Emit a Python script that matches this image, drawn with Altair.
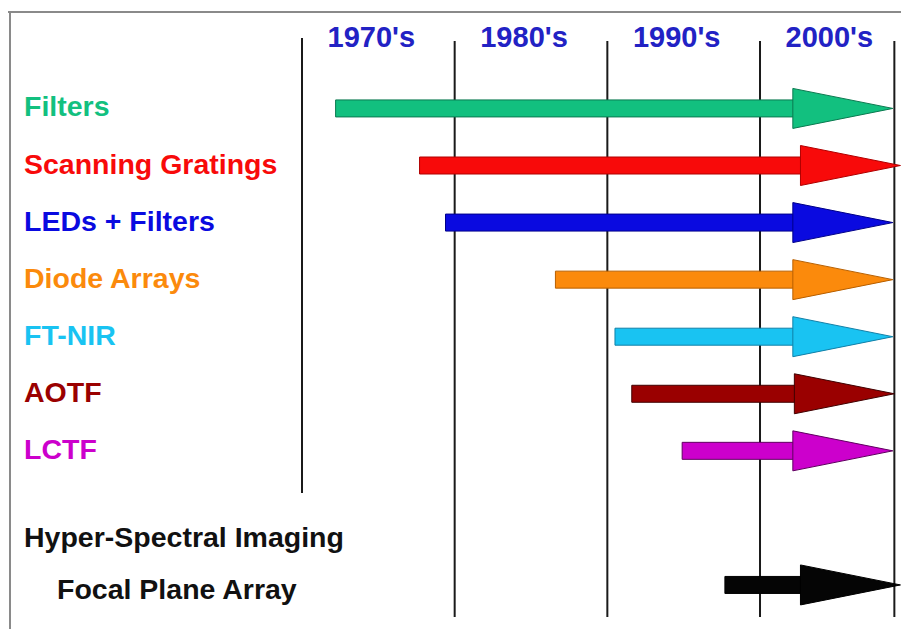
import altair as alt
import pandas as pd

# ---- data ----
tech = ["Filters", "Scanning Gratings", "LEDs + Filters", "Diode Arrays",
        "FT-NIR", "AOTF", "LCTF", "Focal Plane Array"]
start_year = [1972.2, 1977.7, 1979.4, 1986.6, 1990.5, 1991.6, 1994.9, 1997.7]
end_year = [2008.7, 2009.2, 2008.7, 2008.7, 2008.7, 2008.8, 2008.7, 2009.2]
row = [0, 1, 2, 3, 4, 5, 6, 8.35]

heading = ["Hyper-Spectral Imaging"]
heading_row = [7.55]

decades = ["1970's", "1980's", "1990's", "2000's"]
decade_start = [1970, 1980, 1990, 2000]
gridline_years = [1970, 1980, 1990, 2000, 2008.8]

tech_colors = ["#12c07f", "#f80a0a", "#0a0ae0", "#fb8a0c",
               "#19c3f2", "#9a0000", "#cc00cc", "#050505"]
tech_outlines = ["#0b7a50", "#b00000", "#00008a", "#b86000",
                 "#1080a8", "#400000", "#600060", "#000000"]
heading_color = ["#111111"]
decade_color = "#2222c4"

FONT = "Liberation Sans, Arial, sans-serif"
FSIZE = 28.5
DSIZE = 29
HEAD_YEARS = 6.5  # arrow head length in years

W, H = 893, 621

arrows = pd.DataFrame({"tech": tech, "start": start_year, "end": end_year, "row": row})
labels = pd.DataFrame({"label": tech[:-1] + heading, "row": row[:-1] + heading_row})
fpa_label = pd.DataFrame({"label": [tech[-1]], "row": [row[-1]]})
dec = pd.DataFrame({"decade": decades, "start": decade_start})
grid = pd.DataFrame({"year": gridline_years})

xscale = alt.Scale(domain=[1950.742, 2009.235], nice=False, zero=False)
yscale = alt.Scale(domain=[-1.6724, 9.0345], reverse=True, nice=False, zero=False)

color_scale = alt.Scale(domain=tech + heading, range=tech_colors + heading_color)
outline_scale = alt.Scale(domain=tech, range=tech_outlines)

X = lambda f: alt.X(f, type="quantitative", scale=xscale, axis=None)
Y = lambda f: alt.Y(f, type="quantitative", scale=yscale, axis=None)

# frame (top and left edges)
frame_top = alt.Chart(grid).mark_rule(color="#8a8a8a", strokeWidth=1.5).encode(
    x=alt.value(0), x2=alt.value(W), y=alt.value(4))
frame_left = alt.Chart(grid).mark_rule(color="#8a8a8a", strokeWidth=1.5).encode(
    x=alt.value(2), y=alt.value(4), y2=alt.value(H))

# vertical decade lines
first_line = alt.Chart(grid).transform_filter("datum.year == 1970").mark_rule(
    color="#1a1a1a", strokeWidth=2).encode(x=X("year"), y=alt.value(30), y2=alt.value(485))
other_lines = alt.Chart(grid).transform_filter("datum.year > 1970").mark_rule(
    color="#1a1a1a", strokeWidth=2).encode(x=X("year"), y=alt.value(33), y2=alt.value(609))

# decade labels
dec_text = alt.Chart(dec).transform_calculate(mid="datum.start + 5").mark_text(
    font=FONT, fontSize=DSIZE, fontWeight="bold", color=decade_color,
    baseline="middle", align="center", dx=-7).encode(
    x=X("mid"), y=alt.value(30), text="decade:N")

# arrow shafts
shaft = alt.Chart(arrows).transform_calculate(
    base=f"datum.end - {HEAD_YEARS}").mark_bar(size=17, strokeWidth=1).encode(
    x=X("start"), x2="base:Q", y=Y("row"),
    color=alt.Color("tech:N", scale=color_scale, legend=None),
    stroke=alt.Stroke("tech:N", scale=outline_scale, legend=None))

# arrow heads
head = alt.Chart(arrows).mark_point(
    shape="M0,0L-1,-0.2L-1,0.2Z", size=40000, filled=True, opacity=1,
    strokeWidth=1).encode(
    x=X("end"), y=Y("row"),
    color=alt.Color("tech:N", scale=color_scale, legend=None),
    stroke=alt.Stroke("tech:N", scale=outline_scale, legend=None))

# row labels
lab = alt.Chart(labels).mark_text(
    font=FONT, fontSize=FSIZE, fontWeight="bold", align="left",
    baseline="middle", dy=-1).encode(
    x=alt.value(16), y=Y("row"), text="label:N",
    color=alt.Color("label:N", scale=color_scale, legend=None))
lab_fpa = alt.Chart(fpa_label).mark_text(
    font=FONT, fontSize=FSIZE, fontWeight="bold", align="left",
    baseline="middle", dy=5, color="#111111").encode(
    x=alt.value(49), y=Y("row"), text="label:N")

chart = alt.layer(
    frame_top, frame_left, first_line, other_lines, dec_text,
    shaft, head, lab, lab_fpa
).properties(
    width=W, height=H, autosize=alt.AutoSizeParams(type="none"), padding=0,
    background="white"
).configure_view(stroke=None)

chart.save("out.html", embed_options={"renderer": "svg", "actions": False})
